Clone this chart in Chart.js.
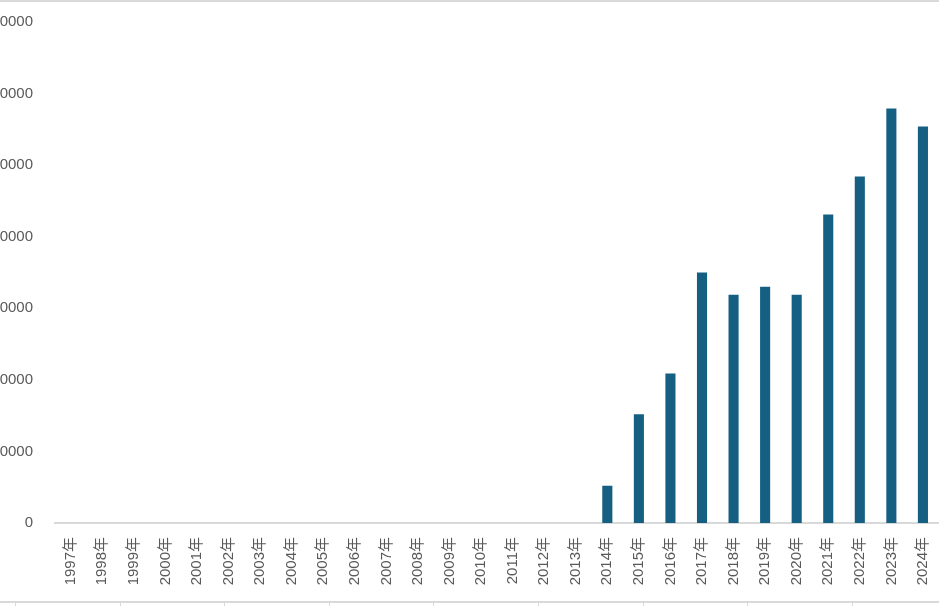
<!DOCTYPE html>
<html>
<head>
<meta charset="utf-8">
<script src="https://cdn.jsdelivr.net/npm/chart.js@4"></script>
<style>
  html, body { margin: 0; padding: 0; background: #ffffff; overflow: hidden; }
  body { width: 939px; height: 606px; position: relative; }
  #wrap { position: absolute; left: -40px; top: -9px; width: 995px; height: 615px; }
  .hline { position: absolute; left: 0; width: 939px; height: 2px; background: #d9d9d9; }
  .vtick { position: absolute; width: 1px; height: 4px; background: #d9d9d9; top: 603px; }
</style>
</head>
<body>
<div id="wrap"><canvas id="c"></canvas></div>
<div class="hline" style="top:0px"></div>
<div class="hline" style="top:601px"></div>
<div class="vtick" style="left:15px"></div>
<div class="vtick" style="left:120px"></div>
<div class="vtick" style="left:224px"></div>
<div class="vtick" style="left:329px"></div>
<div class="vtick" style="left:433px"></div>
<div class="vtick" style="left:538px"></div>
<div class="vtick" style="left:643px"></div>
<div class="vtick" style="left:747px"></div>
<div class="vtick" style="left:852px"></div>
<script>
const categories = ['1997年','1998年','1999年','2000年','2001年','2002年','2003年','2004年','2005年','2006年','2007年','2008年','2009年','2010年','2011年','2012年','2013年','2014年','2015年','2016年','2017年','2018年','2019年','2020年','2021年','2022年','2023年','2024年'];
const seriesValues = [0,0,0,0,0,0,0,0,0,0,0,0,0,0,0,0,0,52000,152000,209000,350000,319000,330000,319000,431000,484000,579000,554000];
const yTickValues = [0,100000,200000,300000,400000,500000,600000,700000];
const yTickLabels = ['0','100000','200000','300000','400000','500000','600000','700000'];

const FONT = '"Liberation Sans", Arial, "Noto Sans CJK SC", sans-serif';

new Chart(document.getElementById('c'), {
  type: 'bar',
  data: {
    labels: categories,
    datasets: [{
      data: seriesValues,
      backgroundColor: '#156082',
      borderWidth: 0,
      barPercentage: 0.32,
      categoryPercentage: 1.0
    }]
  },
  options: {
    responsive: true,
    maintainAspectRatio: false,
    animation: false,
    layout: { padding: { top: 11, right: 4, bottom: 0, left: 0 } },
    plugins: { legend: { display: false }, tooltip: { enabled: false } },
    scales: {
      x: {
        grid: { display: false, drawTicks: false },
        border: { display: true, color: '#d9d9d9', width: 2 },
        ticks: {
          color: '#595959',
          font: { family: FONT, size: 15 },
          minRotation: 90, maxRotation: 90,
          padding: 14,
          autoSkip: false
        },
        afterFit: (s) => { s.height = 83; }
      },
      y: {
        min: 0, max: 700000,
        grid: { display: false, drawTicks: false },
        border: { display: false },
        afterBuildTicks: (s) => { s.ticks = yTickValues.map(v => ({ value: v })); },
        ticks: {
          color: '#595959',
          font: { family: FONT, size: 15 },
          padding: 22,
          callback: (v) => { const i = yTickValues.indexOf(v); return i >= 0 ? yTickLabels[i] : ''; }
        },
        afterFit: (s) => { s.width = 95; }
      }
    }
  }
});
</script>
</body>
</html>
